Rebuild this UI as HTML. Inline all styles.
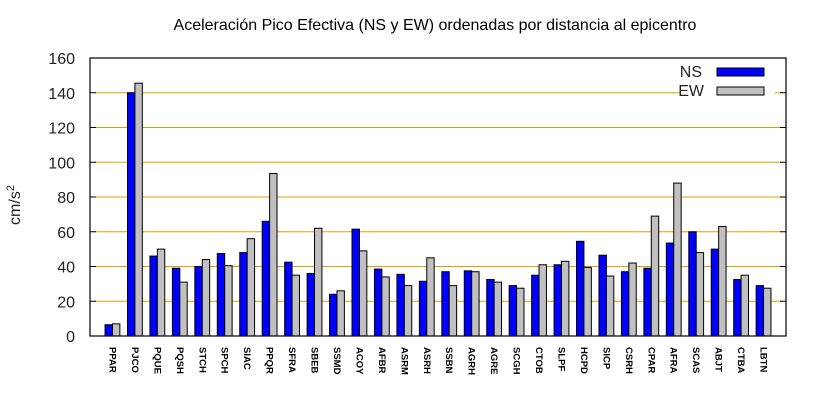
<!DOCTYPE html>
<html><head><meta charset="utf-8"><style>
body{margin:0;background:#fff}
svg{display:block;font-family:"Liberation Sans",sans-serif}
</style></head><body>
<svg id="chart" width="820" height="400" viewBox="0 0 820 400" xmlns="http://www.w3.org/2000/svg">
<text x="435" y="30" text-anchor="middle" font-size="16" fill="#000">Aceleración Pico Efectiva (NS y EW) ordenadas por distancia al epicentro</text>
<text transform="translate(20,205) rotate(-90)" text-anchor="middle" font-size="16" fill="#222">cm/s<tspan baseline-shift="super" font-size="11">2</tspan></text>
<g id="grid"></g><g id="bars"></g><g id="axes"></g>
</svg>
<script>
const categories=["PPAR","PJCO","PQUE","PQSH","STCH","SPCH","SIAC","PPQR","SFRA","SBEB","SSMD","ACOY","AFBR","ASRM","ASRH","SSBN","AGRH","AGRE","SCGH","CTOB","SLPF","HCPD","SICP","CSRH","CPAR","AFRA","SCAS","ABJT","CTBA","LBTN"];
const nsValues=[6.5,140,46,39,40,47.5,48,66,42.5,36,24,61.5,38.5,35.5,31.5,37,37.5,32.5,29,35,41,54.5,46.5,37,39,53.5,60,50,32.5,29];
const ewValues=[7,145.5,50,31,44,40.5,56,93.5,35,62,26,49,34,29,45,29,37,31,27.5,41,43,39.5,34.5,42,69,88,48,63,35,27.5];
const yTicks=[0,20,40,60,80,100,120,140,160];
const NS="http://www.w3.org/2000/svg";
const L=90,R=786,T=58,B=336,yMax=160;
const unit=(R-L)/(categories.length+1);
const xs=i=>L+(i+1)*unit;
const ys=v=>B-(v/yMax)*(B-T);
function mk(tag,attrs,parent,text){const e=document.createElementNS(NS,tag);for(const k in attrs)e.setAttribute(k,attrs[k]);if(text!==undefined)e.textContent=text;parent.appendChild(e);return e;}
const grid=document.getElementById('grid'),bars=document.getElementById('bars'),axes=document.getElementById('axes');
yTicks.forEach(t=>{
  const y=ys(t);
  if(t>0&&t<yMax){
    if(t===140){
      const g1=mk('line',{x1:L+4,x2:680,y1:y,y2:y,stroke:'#e0a000','stroke-width':1},grid);
      
      const g2=mk('line',{x1:775,x2:R-4,y1:y,y2:y,stroke:'#e0a000','stroke-width':1},grid);
      
    } else {
      const g=mk('line',{x1:L+4,x2:R-4,y1:y,y2:y,stroke:'#e0a000','stroke-width':1},grid);
      
    }
    mk('line',{x1:R-6,x2:R,y1:y,y2:y,stroke:'#000'},axes);
    mk('line',{x1:L,x2:L+6,y1:y,y2:y,stroke:'#000'},axes);
  }
  const lb=mk('text',{x:L-15,y:y+6,'text-anchor':'end','font-size':16,fill:'#222'},axes,String(t));
  
});
const bw=unit*0.33;
categories.forEach((c,i)=>{
  const cx=xs(i);
  const r1=mk('rect',{x:cx-bw,y:ys(nsValues[i]),width:bw,height:B-ys(nsValues[i]),fill:'#0000ff',stroke:'#000','stroke-width':1},bars);
  
  const r2=mk('rect',{x:cx,y:ys(ewValues[i]),width:bw,height:B-ys(ewValues[i]),fill:'#c0c0c0',stroke:'#000','stroke-width':1},bars);
  
  const t=mk('text',{transform:`translate(${cx-3},347) rotate(90)`,'font-size':9.5,'font-weight':'bold',fill:'#000'},axes,c);
  
});
const frame=mk('rect',{x:L,y:T,width:R-L,height:B-T,fill:'none',stroke:'#000','stroke-width':1.2},axes);

const lg=mk('g',{},axes);

mk('text',{x:702,y:77,'text-anchor':'end','font-size':16,fill:'#222'},lg,'NS');
const s1=mk('rect',{x:717,y:68,width:47,height:8,fill:'#0000ff',stroke:'#000'},lg);

mk('text',{x:704,y:96,'text-anchor':'end','font-size':16,fill:'#222'},lg,'EW');
const s2=mk('rect',{x:717,y:87,width:47,height:8,fill:'#c0c0c0',stroke:'#000'},lg);

</script>
</body></html>
